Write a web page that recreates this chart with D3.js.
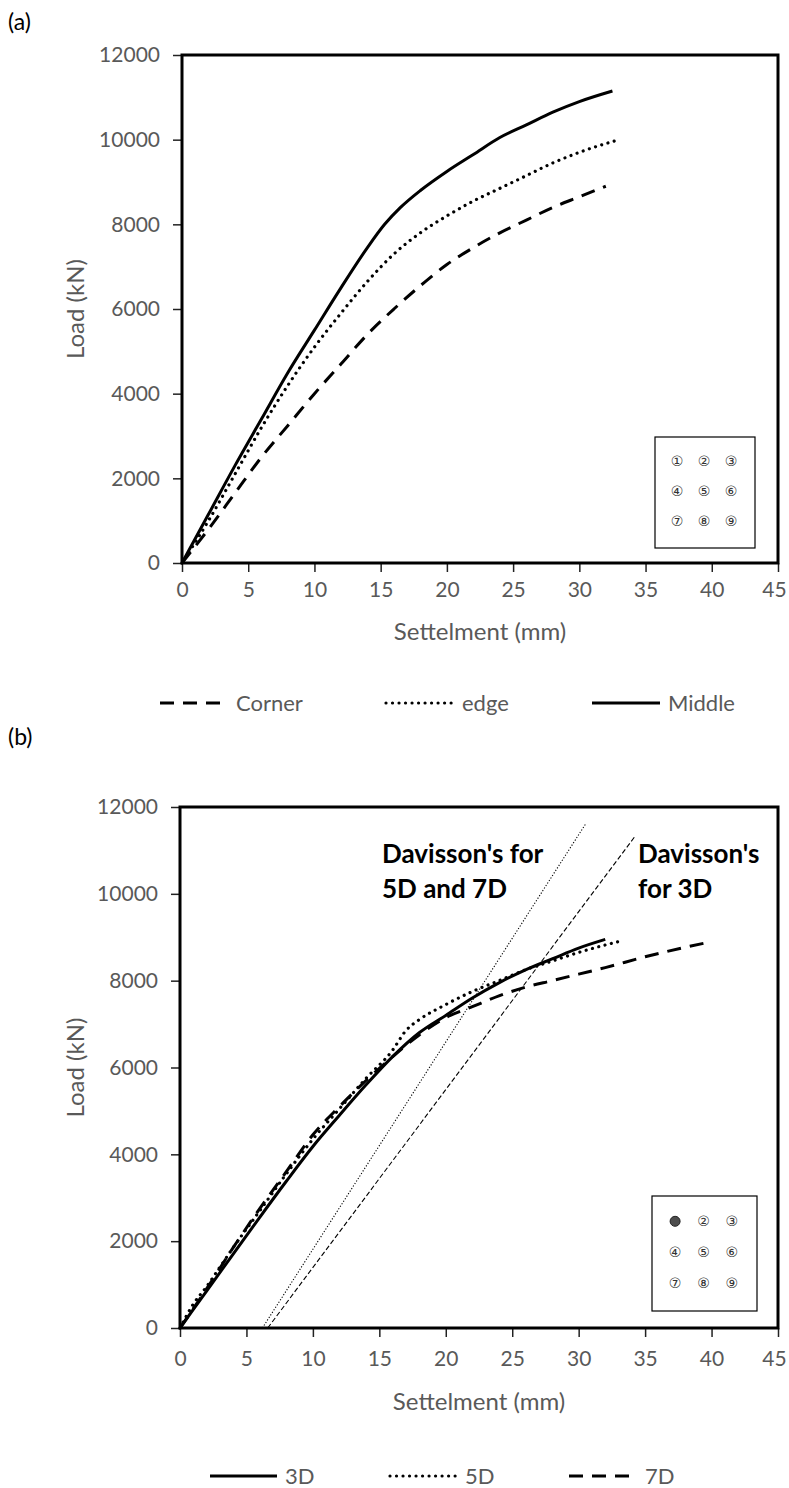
<!doctype html>
<html>
<head>
<meta charset="utf-8"/>
<title>Load settlement</title>
<script src="https://d3js.org/d3.v7.min.js"></script>
<style>
body{margin:0;background:#fff;}
text{font-family:Lato,"Open Sans",sans-serif;}
</style>
</head>
<body>
<script>
// ---- data (settlement mm, load kN) ----
var xTicks = [0,5,10,15,20,25,30,35,40,45];
var yTicks = [0,2000,4000,6000,8000,10000,12000];

var cornerA = [[0,0],[2,800],[4,1650],[6,2500],[8,3250],[10,4000],[12,4700],[14,5400],[16,6000],[18,6550],[20,7050],[22,7450],[24,7800],[26,8100],[28,8400],[30,8650],[32,8900]];
var edgeA   = [[0,0],[2,1000],[4,2100],[6,3200],[8,4200],[10,5100],[12,5900],[14,6650],[16,7300],[18,7800],[20,8200],[22,8550],[24,8850],[26,9150],[28,9450],[30,9700],[33,10000]];
var middleA = [[0,0],[2,1150],[4,2300],[6,3400],[8,4500],[10,5500],[12,6500],[14,7450],[15.3,8000],[16.5,8400],[18,8800],[20,9250],[22,9650],[24,10050],[26,10350],[28,10650],[30,10900],[32.5,11150]];

var d3B = [[0,0],[2,850],[4,1700],[6,2550],[8,3380],[10,4180],[12,4900],[14,5600],[16,6250],[18,6800],[20,7200],[22,7600],[24,7950],[26,8250],[28,8500],[30,8750],[32,8950]];
var d5B = [[0,0],[1,550],[2,950],[3,1400],[4,1850],[6,2700],[8,3550],[10,4350],[12,5050],[14,5750],[16,6400],[17,6850],[18,7100],[20,7450],[22,7750],[24,8000],[26,8250],[28,8450],[30,8650],[33,8900]];
var d7B = [[0,0],[2,900],[4,1850],[6,2750],[8,3600],[10,4450],[12,5100],[14,5700],[16,6250],[18,6750],[20,7150],[22,7400],[24,7650],[26,7850],[28,8000],[30,8150],[32,8300],[35,8550],[40,8900]];

var davisson57 = [[6.2,0],[30.5,11600]];
var davisson3  = [[6.6,0],[34.3,11350]];

var pileNums = ["\u2460","\u2461","\u2462","\u2463","\u2464","\u2465","\u2466","\u2467","\u2468"];

var styles = {
  solid:  {w:3, dash:null, cap:"butt"},
  dotted: {w:3.2, dash:"0.01,6.5", cap:"round"},
  dashed: {w:3, dash:"14,9", cap:"butt"}
};

var svg = d3.select("body").append("svg").attr("width",789).attr("height",1488);

function panel(o){
  var g = svg.append("g");
  var x = d3.scaleLinear().domain([0,45]).range([o.left,o.right]);
  var y = d3.scaleLinear().domain([0,12000]).range([o.bottom,o.top]);

  g.append("text").attr("x",8).attr("y",o.labelY).attr("font-size",23).attr("fill","#000").text(o.label);

  var xa = g.append("g").attr("transform","translate(0,"+o.bottom+")")
    .call(d3.axisBottom(x).tickValues(xTicks).tickSize(9).tickPadding(o.xPad));
  var ya = g.append("g").attr("transform","translate("+o.left+",0)")
    .call(d3.axisLeft(y).tickValues(yTicks).tickSize(9).tickPadding(13).tickFormat(d3.format("d")));
  [xa,ya].forEach(function(a){
    a.select(".domain").remove();
    a.selectAll("line").attr("stroke","#222").attr("stroke-width",1.5);
    a.selectAll("text").attr("font-size",21).attr("fill","#595959").style("font-family","Lato,sans-serif");
  });
  // last x label sits at the page edge, pull it in a little
  xa.selectAll(".tick text").filter(function(d){return d===45;}).attr("dx",-4);

  g.append("text").attr("x",(o.left+o.right)/2).attr("y",o.titleY)
    .attr("text-anchor","middle").attr("font-size",24).attr("fill","#595959").text("Settelment (mm)");
  g.append("text").attr("transform","translate(84,"+((o.top+o.bottom)/2)+") rotate(-90)")
    .attr("text-anchor","middle").attr("font-size",24).attr("fill","#595959").text("Load (kN)");

  var line = d3.line().x(function(d){return x(d[0]);}).y(function(d){return y(d[1]);}).curve(d3.curveMonotoneX);

  o.refs.forEach(function(r){
    g.append("path").datum(r.data).attr("d",d3.line().x(function(d){return x(d[0]);}).y(function(d){return y(d[1]);}))
      .attr("fill","none").attr("stroke","#000").attr("stroke-width",1.1).attr("stroke-dasharray",r.dash);
  });

  o.series.forEach(function(s){
    var st = styles[s.style];
    g.append("path").datum(s.data).attr("d",line)
      .attr("fill","none").attr("stroke","#000").attr("stroke-width",st.w)
      .attr("stroke-linecap",st.cap).attr("stroke-dasharray",st.dash);
  });

  g.append("rect").attr("x",o.left).attr("y",o.top)
    .attr("width",o.right-o.left).attr("height",o.bottom-o.top)
    .attr("fill","none").attr("stroke","#000").attr("stroke-width",3);

  // inset pile layout
  var ib = o.inset;
  g.append("rect").attr("x",ib.x).attr("y",ib.y).attr("width",ib.w).attr("height",ib.h)
    .attr("fill","#fff").attr("stroke","#000").attr("stroke-width",1.2);
  pileNums.forEach(function(t,i){
    var cx = ib.x + ib.w*(0.22 + 0.27*(i%3));
    var cy = ib.y + ib.h*(0.22 + 0.27*Math.floor(i/3));
    if(o.filled && i===0){
      g.append("circle").attr("cx",cx).attr("cy",cy).attr("r",5).attr("fill","#4d4d4d").attr("stroke","#222");
    } else {
      g.append("text").attr("x",cx).attr("y",cy+5).attr("text-anchor","middle")
        .attr("font-size",14).attr("fill","#333").style("font-family","DejaVu Sans").text(t);
    }
  });

  // legend
  o.legend.forEach(function(l){
    var st = styles[l.style];
    g.append("line").attr("x1",l.x1).attr("x2",l.x2).attr("y1",o.legendY).attr("y2",o.legendY)
      .attr("stroke","#000").attr("stroke-width",3.2).attr("stroke-linecap",st.cap).attr("stroke-dasharray",st.dash);
    g.append("text").attr("x",l.x2+8).attr("y",o.legendY+7.5).attr("font-size",22).attr("fill","#595959").text(l.name);
  });

  (o.notes||[]).forEach(function(n){
    g.append("text").attr("x",n.x).attr("y",n.y).attr("font-size",26).attr("font-weight","bold")
      .attr("fill","#000").text(n.t);
  });
}

panel({
  label:"(a)", labelY:30, left:182, right:778, top:55, bottom:563, xPad:10, titleY:640, legendY:703,
  series:[{data:cornerA,style:"dashed"},{data:edgeA,style:"dotted"},{data:middleA,style:"solid"}],
  refs:[],
  inset:{x:655,y:437,w:100,h:111}, filled:false,
  legend:[{name:"Corner",style:"dashed",x1:160,x2:228},{name:"edge",style:"dotted",x1:386,x2:454},{name:"Middle",style:"solid",x1:592,x2:660}]
});

panel({
  label:"(b)", labelY:745, left:180, right:778, top:807, bottom:1328, xPad:14, titleY:1410, legendY:1476,
  series:[{data:d3B,style:"solid"},{data:d5B,style:"dotted"},{data:d7B,style:"dashed"}],
  refs:[{data:davisson57,dash:"1.2,1.8"},{data:davisson3,dash:"5,2.5"}],
  inset:{x:652,y:1196,w:105,h:115}, filled:true,
  legend:[{name:"3D",style:"solid",x1:210,x2:277},{name:"5D",style:"dotted",x1:390,x2:457},{name:"7D",style:"dashed",x1:569,x2:637}],
  notes:[{x:382,y:863,t:"Davisson's for"},{x:382,y:898,t:"5D and 7D"},{x:638,y:863,t:"Davisson's"},{x:638,y:898,t:"for 3D"}]
});
</script>
</body>
</html>
